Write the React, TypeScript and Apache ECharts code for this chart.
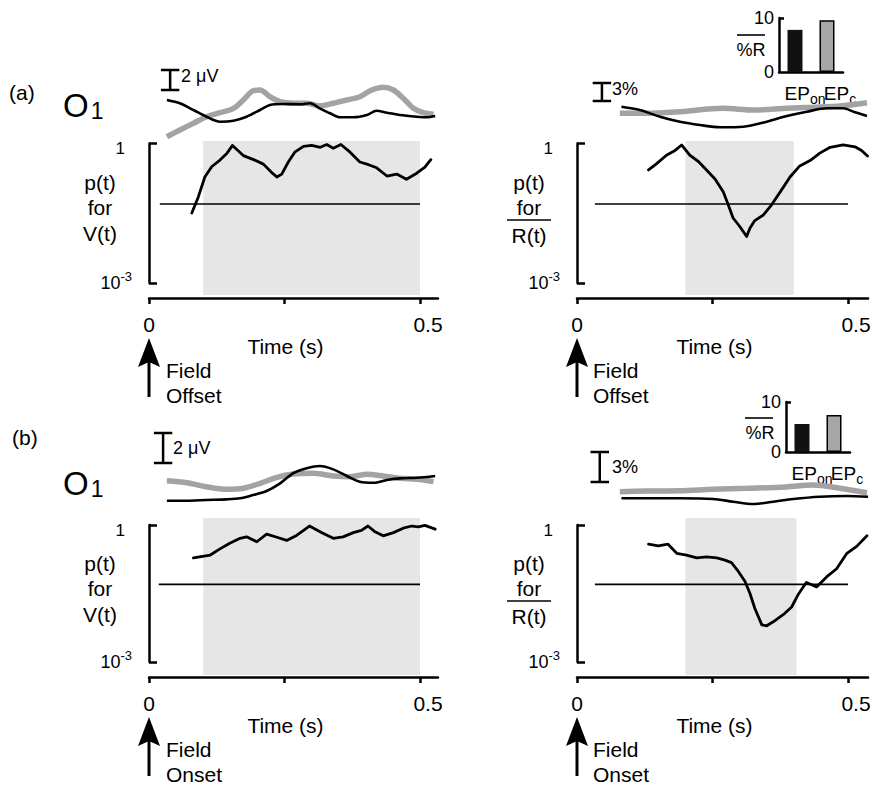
import React, { useEffect, useRef } from "react";
import * as echarts from "echarts";

const FONT = '"Liberation Sans", Arial, Helvetica, sans-serif';

// ---------- shared axis data ----------
const timeTicks = [0, 0.25, 0.5];
const timeLabels = [0, 0.5];
const pThreshold = 0.05;
const pTickValues = [0.0010001, 0.9999];

// ---------- (a) Field Offset, V(t) ----------
const aLeftErpGray: number[][] = [
  [0.033, -2.17], [0.057, -1.5], [0.082, -0.83], [0.106, -0.17], [0.131, 0.23], [0.156, 0.67],
  [0.174, 1.5], [0.192, 2.43], [0.205, 2.5], [0.223, 1.83], [0.242, 1.33], [0.266, 1.17],
  [0.291, 1.17], [0.315, 0.9], [0.34, 1.17], [0.365, 1.5], [0.389, 1.83], [0.408, 2.43],
  [0.432, 2.77], [0.451, 2.5], [0.469, 1.67], [0.488, 0.67], [0.506, 0.23], [0.525, 0.07],
];
const aLeftErpBlack: number[][] = [
  [0.033, 1.5], [0.057, 1.17], [0.082, 0.5], [0.106, -0.17], [0.131, -0.67], [0.156, -0.57],
  [0.18, -0.17], [0.205, 0.5], [0.223, 1.0], [0.248, 1.1], [0.279, 1.07], [0.297, 1.17],
  [0.315, 0.67], [0.334, 0.17], [0.352, -0.23], [0.377, -0.23], [0.402, 0], [0.42, 0.43],
  [0.439, 0.23], [0.463, 0], [0.494, -0.17], [0.512, -0.23], [0.528, -0.1],
];
const aLeftP: number[][] = [
  [0.079, 0.032], [0.091, 0.071], [0.103, 0.19], [0.116, 0.32], [0.131, 0.44], [0.143, 0.6],
  [0.154, 0.91], [0.174, 0.55], [0.193, 0.45], [0.211, 0.36], [0.226, 0.24], [0.236, 0.19],
  [0.245, 0.22], [0.257, 0.4], [0.269, 0.65], [0.285, 0.87], [0.3, 0.91], [0.316, 0.83],
  [0.328, 0.95], [0.34, 0.79], [0.354, 0.95], [0.371, 0.65], [0.389, 0.4], [0.405, 0.35],
  [0.42, 0.3], [0.439, 0.2], [0.457, 0.22], [0.475, 0.17], [0.494, 0.23], [0.509, 0.31], [0.52, 0.45],
];
const aLeftWindow = [0.1, 0.5];

// ---------- (a) Field Offset, R(t) ----------
const aRightErpGray: number[][] = [
  [0.079, -0.55], [0.129, -0.55], [0.19, -0.28], [0.27, 0.28], [0.325, 0], [0.387, 0.28],
  [0.436, 0.45], [0.485, 0.67], [0.535, 1.22],
];
const aRightErpBlack: number[][] = [
  [0.082, 0.55], [0.116, 0], [0.153, -1.12], [0.19, -1.95], [0.227, -2.5], [0.264, -2.88],
  [0.307, -2.78], [0.35, -1.95], [0.387, -1.0], [0.424, -0.28], [0.461, 0.28], [0.491, 0.28],
  [0.51, -0.28], [0.535, -1.0],
];
const aRightP: number[][] = [
  [0.132, 0.27], [0.147, 0.37], [0.165, 0.56], [0.181, 0.71], [0.193, 0.93], [0.208, 0.56],
  [0.224, 0.41], [0.239, 0.27], [0.255, 0.17], [0.27, 0.091], [0.279, 0.048], [0.288, 0.025],
  [0.301, 0.016], [0.313, 0.01], [0.319, 0.015], [0.328, 0.022], [0.344, 0.029], [0.359, 0.048],
  [0.375, 0.091], [0.393, 0.19], [0.411, 0.33], [0.43, 0.43], [0.448, 0.62], [0.467, 0.83],
  [0.491, 0.93], [0.513, 0.85], [0.525, 0.71], [0.536, 0.54],
];
const aRightWindow = [0.2, 0.4];

// ---------- (b) Field Onset, V(t) ----------
const bLeftErpGray: number[][] = [
  [0.033, -0.05], [0.07, -0.18], [0.106, -0.45], [0.143, -0.62], [0.174, -0.55], [0.205, -0.22],
  [0.236, 0.18], [0.266, 0.4], [0.303, 0.45], [0.34, 0.27], [0.371, 0.22], [0.402, 0.38],
  [0.432, 0.27], [0.463, 0.11], [0.494, 0.05], [0.525, -0.11],
];
const bLeftErpBlack: number[][] = [
  [0.033, -1.38], [0.07, -1.38], [0.106, -1.33], [0.143, -1.29], [0.168, -1.22], [0.192, -1.0],
  [0.217, -0.73], [0.242, -0.22], [0.266, 0.45], [0.291, 0.78], [0.315, 0.93], [0.34, 0.71],
  [0.365, 0.27], [0.389, -0.11], [0.414, -0.18], [0.439, 0], [0.463, 0.11], [0.494, 0.15], [0.528, 0.27],
];
const bLeftP: number[][] = [
  [0.082, 0.19], [0.113, 0.22], [0.131, 0.3], [0.149, 0.4], [0.168, 0.51], [0.18, 0.55],
  [0.199, 0.43], [0.217, 0.63], [0.236, 0.54], [0.254, 0.46], [0.273, 0.6], [0.296, 0.95],
  [0.319, 0.68], [0.34, 0.51], [0.358, 0.55], [0.377, 0.68], [0.392, 0.76], [0.404, 0.95],
  [0.417, 0.71], [0.432, 0.58], [0.451, 0.68], [0.469, 0.85], [0.485, 0.95], [0.497, 0.91],
  [0.509, 0.98], [0.528, 0.81],
];
const bLeftWindow = [0.1, 0.5];

// ---------- (b) Field Onset, R(t) ----------
const bRightErpGray: number[][] = [
  [0.079, -0.17], [0.129, -0.1], [0.19, -0.07], [0.251, 0.07], [0.313, 0.17], [0.375, 0.27],
  [0.436, 0.5], [0.485, 0.17], [0.535, -0.27],
];
const bRightErpBlack: number[][] = [
  [0.082, -0.83], [0.129, -0.83], [0.19, -0.83], [0.251, -0.9], [0.288, -1.17], [0.325, -1.4],
  [0.362, -1.17], [0.399, -0.9], [0.448, -0.67], [0.498, -0.6], [0.537, -0.67],
];
const bRightP: number[][] = [
  [0.132, 0.38], [0.15, 0.35], [0.168, 0.38], [0.184, 0.24], [0.202, 0.22], [0.221, 0.19],
  [0.239, 0.2], [0.258, 0.19], [0.273, 0.17], [0.285, 0.15], [0.298, 0.095], [0.31, 0.058],
  [0.319, 0.032], [0.328, 0.015], [0.341, 0.0065], [0.35, 0.0062], [0.362, 0.0076], [0.381, 0.011],
  [0.396, 0.016], [0.408, 0.03], [0.423, 0.055], [0.433, 0.049], [0.442, 0.044], [0.461, 0.074],
  [0.479, 0.11], [0.498, 0.24], [0.516, 0.34], [0.535, 0.58],
];
const bRightWindow = [0.2, 0.405];

// ---------- insets (%R) ----------
const insetCategories = ["EP_on", "EP_c"];
const aInsetValues = [7.8, 9.6];
const bInsetValues = [5.6, 7.4];
const insetTicks = [0, 10];

// ---------- scale bars ----------
const voltScaleBar = 2; // µV
const pctScaleBar = 3; // %

// ---------- styles ----------
const BAND = "#e6e6e6";
const GRAY_TRACE = "#a3a3a3";

type Panel = {
  left: number;
  width: number;
  xMax: number;
  erpTop: number;
  erpH: number;
  erpMin: number;
  erpMax: number;
  pTop: number;
  pH: number;
  bandTop: number;
  bandH: number;
  window: number[];
  thrFrom: number;
  gray: number[][];
  black: number[][];
  p: number[][];
  barT: number;
  barLo: number;
  barSize: number;
};

const panels: Panel[] = [
  {
    left: 149, width: 289, xMax: 289 / 542, erpTop: 55, erpH: 90, erpMin: -3, erpMax: 6,
    pTop: 143.5, pH: 139.5, bandTop: 141, bandH: 154, window: aLeftWindow, thrFrom: 0.02,
    gray: aLeftErpGray, black: aLeftErpBlack, p: aLeftP, barT: 0.039, barLo: 2.5, barSize: voltScaleBar,
  },
  {
    left: 577, width: 291, xMax: 291 / 542, erpTop: 56, erpH: 90, erpMin: -6, erpMax: 9,
    pTop: 143.5, pH: 139.5, bandTop: 141, bandH: 154, window: aRightWindow, thrFrom: 0.033,
    gray: aRightErpGray, black: aRightErpBlack, p: aRightP, barT: 0.046, barLo: 1.5, barSize: pctScaleBar,
  },
  {
    left: 149, width: 289, xMax: 289 / 542, erpTop: 420, erpH: 105, erpMin: -3, erpMax: 4,
    pTop: 525, pH: 137, bandTop: 518, bandH: 157, window: bLeftWindow, thrFrom: 0.018,
    gray: bLeftErpGray, black: bLeftErpBlack, p: bLeftP, barT: 0.026, barLo: 1.13, barSize: voltScaleBar,
  },
  {
    left: 577, width: 291, xMax: 291 / 542, erpTop: 420, erpH: 105, erpMin: -3.5, erpMax: 7,
    pTop: 525, pH: 137, bandTop: 518, bandH: 157, window: bRightWindow, thrFrom: 0.033,
    gray: bRightErpGray, black: bRightErpBlack, p: bRightP, barT: 0.042, barLo: 0.8, barSize: pctScaleBar,
  },
];

const textBase = { color: "#000", fontFamily: FONT };

function buildOption() {
  const grid: any[] = [];
  const xAxis: any[] = [];
  const yAxis: any[] = [];
  const series: any[] = [];

  const hiddenX = (gi: number, max: number) => ({
    gridIndex: gi, type: "value", min: 0, max, show: false,
  });

  panels.forEach((P) => {
    // ERP grid
    const ge = grid.length;
    grid.push({ left: P.left, top: P.erpTop, width: P.width, height: P.erpH, containLabel: false, outerBoundsMode: "none" });
    xAxis.push(hiddenX(ge, P.xMax));
    yAxis.push({ gridIndex: ge, type: "value", min: P.erpMin, max: P.erpMax, show: false });

    // band grid
    const gb = grid.length;
    grid.push({ left: P.left, top: P.bandTop, width: P.width, height: P.bandH, containLabel: false, outerBoundsMode: "none" });
    xAxis.push(hiddenX(gb, P.xMax));
    yAxis.push({ gridIndex: gb, type: "value", min: 0, max: 1, show: false });

    // p grid
    const gp = grid.length;
    grid.push({ left: P.left, top: P.pTop, width: P.width, height: P.pH, containLabel: false, outerBoundsMode: "none" });
    xAxis.push({
      gridIndex: gp, type: "value", min: 0, max: P.xMax, position: "bottom", offset: 15,
      axisLine: { show: true, lineStyle: { color: "#000", width: 2.5 } },
      axisTick: { show: true, customValues: timeTicks, length: 6, lineStyle: { color: "#000", width: 2.5 } },
      axisLabel: {
        show: true, customValues: timeLabels, margin: 16, fontSize: 21, ...textBase,
        formatter: (v: number) => (v < 0.25 ? "0" : "{r|0.5}"),
        rich: { r: { fontSize: 21, ...textBase, padding: [0, 0, 0, 16] } },
      },
      splitLine: { show: false },
      name: "Time (s)", nameLocation: "middle", nameGap: 25,
      nameTextStyle: { fontSize: 21, ...textBase, padding: [0, 16, 0, 0] },
    });
    yAxis.push({
      gridIndex: gp, type: "log", logBase: 10, min: 0.001, max: 1, offset: 12,
      axisLine: { show: true, lineStyle: { color: "#000", width: 2.5 } },
      axisTick: { show: true, inside: true, length: 8, customValues: pTickValues, lineStyle: { color: "#000", width: 2.5 } },
      axisLabel: {
        show: true, customValues: pTickValues, margin: 5, ...textBase,
        formatter: (v: number) => (v > 0.5 ? "{one|1}" : "{b|10}{sup|-3}"),
        rich: {
          one: { fontSize: 17, ...textBase, padding: [10, 7, 0, 0] },
          b: { fontSize: 18, ...textBase, lineHeight: 26 },
          sup: { fontSize: 13, ...textBase, lineHeight: 13, verticalAlign: "top" },
        },
      },
      splitLine: { show: false },
    });

    // band
    series.push({
      type: "line", xAxisIndex: gb, yAxisIndex: gb, data: [[P.window[0], 0.5]], symbol: "none",
      silent: true, z: 0, lineStyle: { opacity: 0 },
      markArea: { silent: true, itemStyle: { color: BAND }, data: [[{ xAxis: P.window[0] }, { xAxis: P.window[1] }]] },
    });
    // threshold
    series.push({
      type: "line", xAxisIndex: gp, yAxisIndex: gp, data: [[P.thrFrom, pThreshold], [0.5, pThreshold]],
      symbol: "none", silent: true, z: 3, lineStyle: { color: "#000", width: 1.6 },
    });
    // p curve
    series.push({
      type: "line", xAxisIndex: gp, yAxisIndex: gp, data: P.p, symbol: "none", silent: true, z: 4,
      lineStyle: { color: "#000", width: 2.8, join: "round", cap: "round" },
    });
    // ERP traces
    series.push({
      type: "line", xAxisIndex: ge, yAxisIndex: ge, data: P.gray, symbol: "none", silent: true, z: 3,
      smooth: 0.3, lineStyle: { color: GRAY_TRACE, width: 5.5 },
    });
    series.push({
      type: "line", xAxisIndex: ge, yAxisIndex: ge, data: P.black, symbol: "none", silent: true, z: 4,
      smooth: 0.3, lineStyle: { color: "#000", width: 2.6 },
    });
    // scale bar
    const w = 0.017;
    const lo = P.barLo;
    const hi = P.barLo + P.barSize;
    series.push({
      type: "line", xAxisIndex: ge, yAxisIndex: ge, symbol: "none", silent: true, z: 4,
      data: [[P.barT - w, lo], [P.barT + w, lo], [P.barT, lo], [P.barT, hi], [P.barT - w, hi], [P.barT + w, hi]],
      lineStyle: { color: "#000", width: 2.5 },
    });
  });

  // insets
  const insets = [
    { left: 779, top: 18, width: 64, height: 54, values: aInsetValues },
    { left: 786, top: 402, width: 64, height: 50, values: bInsetValues },
  ];
  insets.forEach((I) => {
    const gi = grid.length;
    grid.push({ left: I.left, top: I.top, width: I.width, height: I.height, containLabel: false, outerBoundsMode: "none" });
    xAxis.push({
      gridIndex: gi, type: "category", data: insetCategories, boundaryGap: true,
      axisLine: { show: true, lineStyle: { color: "#000", width: 2.5 } },
      axisTick: { show: false },
      axisLabel: {
        show: true, margin: 8, interval: 0, ...textBase,
        formatter: (v: string, idx: number) => {
          const [m, s] = v.split("_");
          return `{m${idx}|${m}}{s|${s}}`;
        },
        rich: {
          m0: { fontSize: 19, ...textBase, lineHeight: 26, padding: [0, 0, 0, 20] },
          m1: { fontSize: 19, ...textBase, lineHeight: 26, padding: [0, 0, 0, 26] },
          s: { fontSize: 14, ...textBase, lineHeight: 12, verticalAlign: "bottom" },
        },
      },
    });
    yAxis.push({
      gridIndex: gi, type: "value", min: 0, max: 10, interval: 10,
      axisLine: { show: true, lineStyle: { color: "#000", width: 2.5 } },
      axisTick: { show: true, inside: true, length: 5, customValues: [10], lineStyle: { color: "#000", width: 2.5 } },
      axisLabel: { show: true, customValues: insetTicks, margin: 5, fontSize: 18, ...textBase },
      splitLine: { show: false },
    });
    series.push({
      type: "bar", xAxisIndex: gi, yAxisIndex: gi, barWidth: 15, silent: true, z: 3,
      data: [
        { value: I.values[0], itemStyle: { color: "#111" } },
        { value: I.values[1], itemStyle: { color: "#a6a6a6", borderColor: "#000", borderWidth: 1.5 } },
      ],
    });
  });

  // ---------- annotations ----------
  const t = (x: number, y: number, text: string, extra: any = {}) => ({
    type: "text", x, y, z: 10, silent: true,
    style: { text, fontSize: 21, fontFamily: FONT, fill: "#000", align: "left", verticalAlign: "middle", ...extra },
  });
  const hline = (x1: number, x2: number, y: number) => ({
    type: "line", z: 10, silent: true, shape: { x1, y1: y, x2, y2: y }, style: { stroke: "#000", lineWidth: 1.6 },
  });
  const arrow = (cx: number, tipY: number) => ({
    type: "group", x: cx, y: tipY, z: 10, silent: true,
    children: [
      { type: "polygon", shape: { points: [[0, 0], [11, 29], [0, 24], [-11, 29]] }, style: { fill: "#000" } },
      { type: "line", shape: { x1: 0, y1: 20, x2: 0, y2: 59 }, style: { stroke: "#000", lineWidth: 3 } },
    ],
  });
  const o1 = (x: number, y: number) =>
    t(x, y, "{o|O}{s|1}", {
      rich: {
        o: { fontSize: 33, fontFamily: FONT, fill: "#000", lineHeight: 36, verticalAlign: "bottom" },
        s: { fontSize: 23, fontFamily: FONT, fill: "#000", lineHeight: 26, verticalAlign: "bottom", padding: [0, 0, 0, 2] },
      },
    });

  const graphic: any[] = [];
  [0, 381].forEach((dy, k) => {
    const onset = k === 1;
    graphic.push(t(k === 0 ? 9 : 12, (k === 0 ? 92 : 437), k === 0 ? "(a)" : "(b)"));
    graphic.push(o1(63, (k === 0 ? 104 : 482)));
    graphic.push(t(k === 0 ? 181 : 173, k === 0 ? 76 : 448, "2 μV", { fontSize: 18 }));
    graphic.push(t(612, k === 0 ? 89 : 467, "3%", { fontSize: 18 }));
    // left p(t) label
    graphic.push(t(100, 182 + dy, "p(t)", { align: "center" }));
    graphic.push(t(100, 207 + dy, "for", { align: "center" }));
    graphic.push(t(100, 233 + dy, "V(t)", { align: "center" }));
    // right p(t) label
    graphic.push(t(529, 182 + dy, "p(t)", { align: "center" }));
    graphic.push(t(529, 207 + dy, "for", { align: "center" }));
    graphic.push(t(529, 235 + dy, "R(t)", { align: "center" }));
    graphic.push(hline(507, 551, 220 + dy));
    // arrows + field labels
    const ay = 338 + (onset ? 379 : 0);
    graphic.push(arrow(149, ay));
    graphic.push(arrow(577, ay));
    graphic.push(t(166, ay + 32, "Field"));
    graphic.push(t(166, ay + 57, onset ? "Onset" : "Offset"));
    graphic.push(t(593, ay + 32, "Field"));
    graphic.push(t(593, ay + 57, onset ? "Onset" : "Offset"));
  });
  // inset %R labels
  graphic.push(t(751, 50, "%R", { align: "center", fontSize: 18 }));
  graphic.push(hline(737, 765, 35));
  graphic.push(t(760, 433, "%R", { align: "center", fontSize: 18 }));
  graphic.push(hline(745, 773, 418));

  return {
    animation: false,
    backgroundColor: "#fff",
    textStyle: { fontFamily: FONT },
    grid,
    xAxis,
    yAxis,
    series,
    graphic,
  };
}

export default function App() {
  const ref = useRef<HTMLDivElement>(null);
  useEffect(() => {
    if (!ref.current) return;
    const chart = echarts.init(ref.current, undefined, { renderer: "svg" });
    chart.setOption(buildOption() as any);
    return () => chart.dispose();
  }, []);
  return (
    <div
      ref={ref}
      style={{ position: "absolute", left: 0, top: 0, width: 875, height: 785, background: "#fff" }}
    />
  );
}
